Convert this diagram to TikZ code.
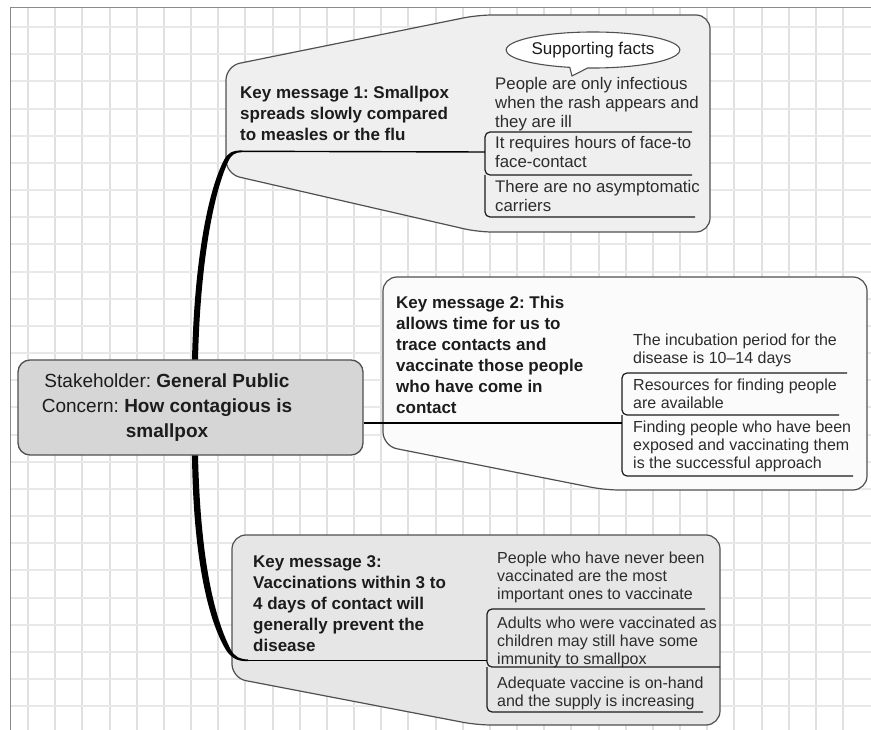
\documentclass[tikz,border=0pt]{standalone}
\usepackage{fontspec}
\setmainfont{Liberation Sans}
\usetikzlibrary{shapes.callouts}
\definecolor{gridv}{HTML}{E0E0E0}
\definecolor{gridh}{HTML}{E8E8E8}
\definecolor{frame}{HTML}{8A8A8A}
\definecolor{shapeline}{HTML}{505050}
\definecolor{kmonefill}{HTML}{EFEFEF}
\definecolor{kmtwofill}{HTML}{FBFBFB}
\definecolor{kmthreefill}{HTML}{E6E6E6}
\definecolor{hubfill}{HTML}{D6D6D6}
\definecolor{inkdark}{HTML}{1C1C1C}
\definecolor{inkfact}{HTML}{2C2C2C}
\frenchspacing
\tikzset{
  gridlineV/.style={draw=gridv, line width=1.3},
  gridlineH/.style={draw=gridh, line width=1.3},
  kmshape/.style={draw=shapeline, line width=1.2, rounded corners=14},
  kmtext/.style={font=\fontsize{17}{21}\selectfont\bfseries, text=inkdark, align=left, inner sep=0, anchor=north west},
  factA/.style={font=\fontsize{16.8}{19}\selectfont, text=inkfact, align=left, inner sep=0, anchor=north west},
  factB/.style={font=\fontsize{16}{17.8}\selectfont, text=inkfact, align=left, inner sep=0, anchor=north west},
  factline/.style={draw=inkdark, line width=1.2, rounded corners=5},
  conn/.style={draw=black, line width=1.4},
  hubbox/.style={draw=shapeline, line width=1.3, fill=hubfill, rounded corners=12, minimum width=345, minimum height=95, inner sep=0},
  hubtext/.style={font=\fontsize{19}{25}\selectfont, text=inkdark, align=center, inner sep=0},
}
\begin{document}
\begin{tikzpicture}[x=1pt,y=-1pt]
\useasboundingbox (0,0) rectangle (871,730);
\fill[white] (0,0) rectangle (871,730);
% grid
\foreach \k in {0,...,30} {\pgfmathsetmacro{\gx}{round(28+27.17*\k)}\draw[gridlineV] (\gx,8) -- (\gx,730);}
\foreach \k in {0,...,25} {\pgfmathsetmacro{\gy}{round(27+27.17*\k)}\draw[gridlineH] (11,\gy) -- (871,\gy);}
\draw[frame, line width=1.5] (10.5,730) -- (10.5,7.5) -- (871,7.5);

% key message shapes
\draw[kmshape, fill=kmonefill] (478,15) -- (710,15) -- (710,232) -- (478,232) -- (226,174) -- (226,66) -- cycle;
\draw[kmshape, fill=kmtwofill] (383,277) -- (867,277) -- (867,490) -- (605,490) -- (383,446) -- cycle;
\draw[kmshape, fill=kmthreefill] (232,535) -- (720,535) -- (720,725) -- (477,725) -- (232,678) -- cycle;

% spine
\fill[black] (192,385) -- (192,360) .. controls (194,270) and (206,195) .. (224,160)
  .. controls (228,153) and (232,150.4) .. (242,150.4) -- (242,152.2)
  .. controls (235,152.2) and (231,155) .. (228,162)
  .. controls (212,197) and (200,270) .. (198,360) -- (198,385) -- cycle;
\fill[black] (192,430) -- (192,455) .. controls (193,545) and (205,615) .. (226,650)
  .. controls (232,659) and (238,661.2) .. (248,661.2) -- (248,659.4)
  .. controls (240,659.4) and (235,657) .. (231,650)
  .. controls (211,612) and (200,545) .. (198,455) -- (198,430) -- cycle;

% central topic
\node[hubbox] (hub) at (190.5,407.5) {};
\node[hubtext] (hubtext) at (167,408) {Stakeholder: \textbf{General Public}\\Concern: \textbf{How contagious is}\\\textbf{smallpox}};

% key message texts
\node[kmtext] (km1) at (240,86) {Key message 1: Smallpox\\spreads slowly compared\\to measles or the flu};
\node[kmtext] (km2) at (396,296) {Key message 2: This\\allows time for us to\\trace contacts and\\vaccinate those people\\who have come in\\contact};
\node[kmtext] (km3) at (253,555) {Key message 3:\\Vaccinations within 3 to\\4 days of contact will\\generally prevent the\\disease};

% supporting facts callout
\node[ellipse callout, draw=shapeline, line width=1.1, fill=white, minimum width=140, minimum height=36, inner sep=0,
  callout absolute pointer={(572,76)}, callout pointer arc=12, font=\fontsize{17}{19}\selectfont, text=inkdark] (sf) at (593,50) {Supporting facts};

% facts for key message 1
\node[factA] (f11) at (495,77) {People are only infectious\\when the rash appears and\\they are ill};
\node[factA] (f12) at (495,136) {It requires hours of face-to\\face-contact};
\node[factA] (f13) at (495,180) {There are no asymptomatic\\carriers};
\draw[factline] (692,132) -- (485,132) -- (485,175) -- (692,175);
\draw[factline] (485,175) -- (485,217) -- (695,217);
\coordinate (km1start) at (242,151.3);
\coordinate (b1) at (485,152);
\draw[conn] (km1start) -- (b1);

% facts for key message 2
\node[factB] (f21) at (633,334) {The incubation period for the\\disease is 10--14 days};
\node[factB] (f22) at (633,379) {Resources for finding people\\are available};
\node[factB] (f23) at (633,421) {Finding people who have been\\exposed and vaccinating them\\is the successful approach};
\draw[factline] (847,373) -- (622,373) -- (622,415) -- (839,415);
\draw[factline] (622,415) -- (622,476) -- (853,476);
\coordinate (b2) at (622,423);
\draw[conn] (hub.east |- b2) -- (b2);

% facts for key message 3
\node[factB] (f31) at (497,552) {People who have never been\\vaccinated are the most\\important ones to vaccinate};
\node[factB] (f32) at (497,617) {Adults who were vaccinated as\\children may still have some\\immunity to smallpox};
\node[factB] (f33) at (497,677) {Adequate vaccine is on-hand\\and the supply is increasing};
\draw[factline] (705,609) -- (487,609) -- (487,667) -- (720,667);
\draw[factline] (487,667) -- (487,712) -- (703,712);
\coordinate (km3start) at (248,660.3);
\coordinate (b3) at (487,660.3);
\draw[conn] (km3start) -- (b3);
\end{tikzpicture}
\end{document}
